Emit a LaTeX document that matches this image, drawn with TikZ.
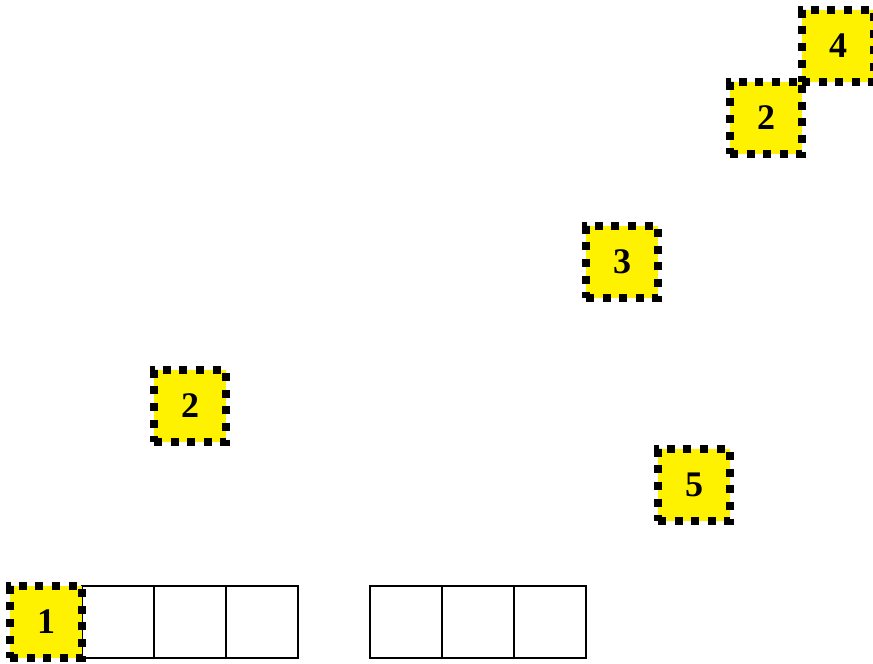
\documentclass[tikz,border=0pt]{standalone}
\usepackage{fontspec}
\setmainfont{Liberation Serif}
\begin{document}
\begin{tikzpicture}[x=1pt,y=-1pt,
  cell/.style={draw=black,line width=2pt,minimum size=72pt,inner sep=0pt,outer sep=0pt},
  ybox/.style={draw=black,fill=yellow,line width=7.5pt,dash pattern=on 8pt off 8.6pt,
    minimum size=72pt,inner sep=0pt,outer sep=0pt,font=\fontsize{36}{40}\selectfont\bfseries}]
\useasboundingbox (0,0) rectangle (873,664);
\node[cell] (c1) at (118,622) {};
\node[cell] (c2) at (190,622) {};
\node[cell] (c3) at (262,622) {};
\node[cell] (c4) at (406,622) {};
\node[cell] (c5) at (478,622) {};
\node[cell] (c6) at (550,622) {};
\node[ybox] (b1) at (46,622) {1};
\node[ybox] (b2) at (190,406) {2};
\node[ybox] (b3) at (622,262) {3};
\node[ybox] (b5) at (694,485) {5};
\node[ybox] (b2b) at (766,118) {2};
\node[ybox] (b4) at (838,46) {4};
\end{tikzpicture}
\end{document}
